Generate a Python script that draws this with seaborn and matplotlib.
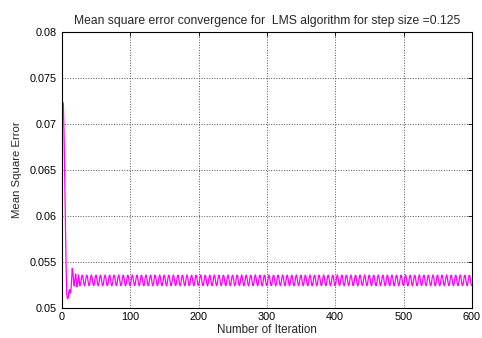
import numpy as np
import pandas as pd
import matplotlib
matplotlib.use("Agg")
import matplotlib.pyplot as plt
import seaborn as sns

# values
# first iterations (0..27), one value per iteration
transient = [0.0725, 0.0724, 0.0722, 0.0690, 0.0640, 0.0590, 0.0545, 0.0515,
             0.0510, 0.0511, 0.0517, 0.0520, 0.0516, 0.0518, 0.0530, 0.0543,
             0.0538, 0.0528, 0.0524, 0.0532, 0.0537, 0.0530, 0.0523, 0.0527,
             0.0536, 0.0533, 0.0524, 0.0526]
# steady-state ripple, 3 periods over 20 iterations, repeats until the end
ripple = [0.05300, 0.05349, 0.05357, 0.05319, 0.05265, 0.05240, 0.05265,
          0.05319, 0.05357, 0.05349, 0.05300, 0.05251, 0.05243, 0.05281,
          0.05335, 0.05360, 0.05335, 0.05281, 0.05243, 0.05251]
n_iter = 600

xticks = [0, 100, 200, 300, 400, 500, 600]
yticks = [0.05, 0.055, 0.06, 0.065, 0.07, 0.075, 0.08]
ytick_labels = ['0.05', '0.055', '0.06', '0.065', '0.07', '0.075', '0.08']

# build the series
n_rest = n_iter + 1 - len(transient)
reps = n_rest // len(ripple) + 1
mse = np.concatenate([transient, np.tile(ripple, reps)[:n_rest]])
df = pd.DataFrame({'iteration': np.arange(n_iter + 1), 'mse': mse})

sns.set_style("white")
plt.rcParams['font.family'] = ['Liberation Sans', 'DejaVu Sans']

fig = plt.figure(figsize=(4.82, 3.38), dpi=100)
ax = fig.add_axes([0.1286, 0.0888, 0.8504, 0.8162])

sns.lineplot(data=df, x='iteration', y='mse', color='#FF00FF', linewidth=0.9, ax=ax)

ax.set_xlim(0, 600)
ax.set_ylim(0.05, 0.08)
ax.set_xticks(xticks)
ax.set_yticks(yticks)
ax.set_yticklabels(ytick_labels)

# MATLAB-like look: dotted grid, inward ticks on all sides
ax.grid(True, linestyle=':', color='#555555', linewidth=0.7)
ax.tick_params(direction='in', top=True, right=True, length=3, width=0.6,
               labelsize=7.8, colors='black')
ax.tick_params(axis='y', pad=4)
ax.tick_params(axis='x', pad=3)
for s in ax.spines.values():
    s.set_color('black')
    s.set_linewidth(0.8)

ax.set_xlabel('Number of Iteration', fontsize=8.4, labelpad=1)
ax.set_ylabel('Mean Square Error', fontsize=8.2, labelpad=5)
ax.set_title('Mean square error convergence for  LMS algorithm for step size =0.125',
             fontsize=8.7, pad=6)

fig.savefig('out.png', dpi=100)
